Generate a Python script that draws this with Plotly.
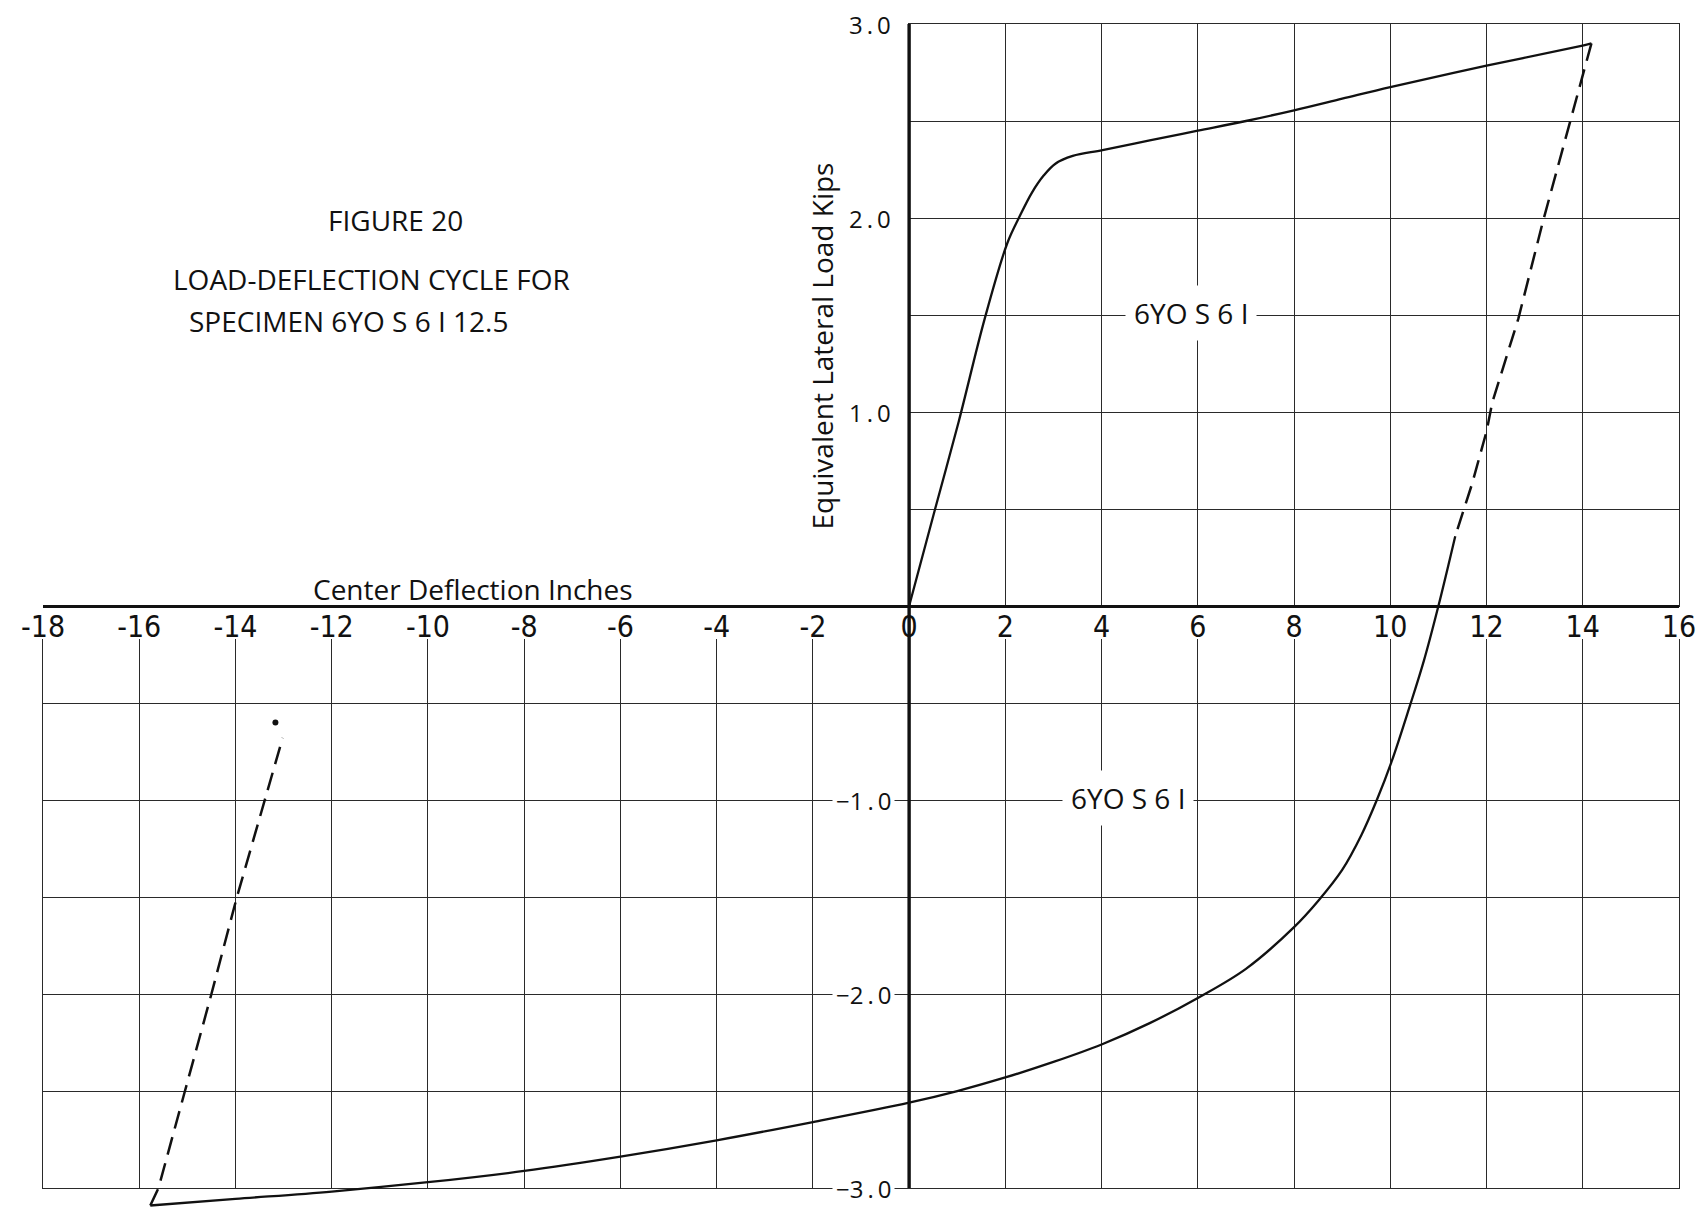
import plotly.graph_objects as go

# ---------------- data ----------------
load_x = [0.0, 0.54, 1.03, 1.57, 2.04, 2.3, 2.55, 2.8, 3.04, 3.4, 4.02, 5.0, 6.0, 7.0, 8.0, 9.0, 10.0, 12.0, 14.02, 14.18]
load_y = [0.0, 0.5, 0.95, 1.48, 1.87, 2.01, 2.13, 2.22, 2.28, 2.32, 2.35, 2.40, 2.45, 2.50, 2.555, 2.615, 2.675, 2.785, 2.89, 2.9]

unload_x = [14.18, 13.17, 12.66, 12.12, 12.0, 11.7, 11.35]
unload_y = [2.9, 1.98, 1.48, 1.05, 0.9, 0.63, 0.36]

reverse_x = [11.35, 11.0, 10.7, 10.4, 10.03, 9.72, 9.4, 9.0, 8.5, 8.0, 7.0, 6.0, 5.0, 4.0, 3.0, 2.0, 1.0, 0.0,
             -2.0, -4.0, -6.0, -8.0, -10.0, -12.0, -14.0, -15.77]
reverse_y = [0.36, 0.0, -0.28, -0.52, -0.80, -1.0, -1.18, -1.36, -1.52, -1.655, -1.87, -2.02, -2.15, -2.26, -2.35, -2.43,
             -2.50, -2.56, -2.66, -2.754, -2.838, -2.912, -2.97, -3.018, -3.056, -3.09]

reload_x = [-15.77, -15.6, -15.05, -14.5, -13.97, -13.5, -13.02]
reload_y = [-3.09, -3.0, -2.5, -2.0, -1.5, -1.1, -0.68]

end_dot_x = [-13.17]
end_dot_y = [-0.60]

x_ticks = list(range(-18, 17, 2))
x_ticktext = [str(v) if v >= 0 else "-" + str(-v) for v in x_ticks]
y_labels = [3.0, 2.0, 1.0, -1.0, -2.0, -3.0]

# ---------------- geometry ----------------
X_MIN, X_MAX = -18, 16
Y_MIN, Y_MAX = -3.108, 3.0
GRID_LOW_TOP = -0.17


def fx(v):
    return (v - X_MIN) / (X_MAX - X_MIN)


def fy(v):
    return (v - Y_MIN) / (Y_MAX - Y_MIN)


INK = "#111111"
GRID = "#2a2a2a"
FONT = "'Open Sans', Lato, sans-serif"
NARROW = "'Liberation Sans Narrow', 'DejaVu Sans Condensed', Lato, sans-serif"

fig = go.Figure()

# empty traces so the grid subplots exist
fig.add_trace(go.Scatter(x=[None], y=[None], xaxis="x", yaxis="y", showlegend=False, hoverinfo="skip"))
fig.add_trace(go.Scatter(x=[None], y=[None], xaxis="x2", yaxis="y2", showlegend=False, hoverinfo="skip"))

line_solid = dict(color=INK, width=2.3, shape="spline", smoothing=1.0)
line_dash = dict(color=INK, width=2.5, dash="18px,9px")

fig.add_trace(go.Scatter(x=load_x, y=load_y, mode="lines", line=line_solid,
                         xaxis="x3", yaxis="y3", showlegend=False))
fig.add_trace(go.Scatter(x=unload_x, y=unload_y, mode="lines", line=line_dash,
                         xaxis="x3", yaxis="y3", showlegend=False))
fig.add_trace(go.Scatter(x=reverse_x, y=reverse_y, mode="lines", line=line_solid,
                         xaxis="x3", yaxis="y3", showlegend=False))
fig.add_trace(go.Scatter(x=reload_x, y=reload_y, mode="lines", line=line_dash,
                         xaxis="x3", yaxis="y3", showlegend=False))
fig.add_trace(go.Scatter(x=end_dot_x, y=end_dot_y, mode="markers", marker=dict(color=INK, size=6),
                         xaxis="x3", yaxis="y3", showlegend=False))

grid_common = dict(showgrid=True, gridcolor=GRID, gridwidth=1.2, showline=True, linecolor=GRID, linewidth=1.2,
                   zeroline=False, showticklabels=False, ticks="", fixedrange=True)

fig.update_layout(
    width=1696, height=1209,
    margin=dict(l=43, r=17, t=24, b=0),
    paper_bgcolor="white", plot_bgcolor="rgba(0,0,0,0)",
    showlegend=False,
    # upper-right quadrant grid
    xaxis=dict(domain=[fx(0), 1], range=[0, 16], tick0=0, dtick=2, mirror=True, anchor="y", **grid_common),
    yaxis=dict(domain=[fy(0), 1], range=[0, 3], tick0=0, dtick=0.5, mirror=True, anchor="x", **grid_common),
    # lower half grid
    xaxis2=dict(domain=[0, 1], range=[-18, 16], tick0=0, dtick=2, mirror=False, anchor="y2", **grid_common),
    yaxis2=dict(domain=[fy(-3), fy(GRID_LOW_TOP)], range=[-3, GRID_LOW_TOP], tick0=0, dtick=0.5, mirror=True,
                anchor="x2", **grid_common),
    # data axes
    xaxis3=dict(domain=[0, 1], range=[X_MIN, X_MAX], showgrid=False, zeroline=False, showline=False,
                tickmode="array", tickvals=x_ticks, ticktext=x_ticktext, ticks="",
                tickfont=dict(family=NARROW, size=30, color=INK), ticklabeloverflow="allow",
                anchor="free", position=fy(0), fixedrange=True),
    yaxis3=dict(domain=[0, 1], range=[Y_MIN, Y_MAX], showgrid=False, showline=False, showticklabels=False,
                zeroline=True, zerolinecolor=INK, zerolinewidth=3.2, anchor="x3", fixedrange=True),
)

# thick vertical axis line at x = 0 spanning the grid height
fig.add_shape(type="line", xref="x3", yref="y3", x0=0, x1=0, y0=-3, y1=3, line=dict(color=INK, width=3.4))

# y value labels
for v in y_labels:
    txt = ("\u2212" if v < 0 else "") + f"{abs(v):.0f}\u2009.\u20090"
    fig.add_annotation(xref="x3", yref="y3", x=0, y=v, text=txt, showarrow=False, xanchor="right",
                       xshift=-14, font=dict(family=FONT, size=24, color=INK),
                       bgcolor="white" if v < 0 else None, borderpad=3)

# axis titles
fig.add_annotation(xref="x3", yref="y3", x=-9.06, y=0.09, text="Center Deflection Inches", showarrow=False,
                   font=dict(family=FONT, size=28, color=INK))
fig.add_annotation(xref="x3", yref="y3", x=-1.8, y=1.34, text="Equivalent Lateral Load Kips", showarrow=False,
                   textangle=-90, font=dict(family=FONT, size=28, color=INK))

# figure title
fig.add_annotation(xref="x3", yref="y3", x=-10.68, y=1.99, text="FIGURE 20", showarrow=False,
                   font=dict(family=FONT, size=28, color=INK))
fig.add_annotation(xref="x3", yref="y3", x=-15.34, y=1.686, text="LOAD-DEFLECTION CYCLE FOR", showarrow=False,
                   xanchor="left", font=dict(family=FONT, size=28, color=INK))
fig.add_annotation(xref="x3", yref="y3", x=-15.0, y=1.469, text="SPECIMEN 6YO S 6 I 12.5", showarrow=False,
                   xanchor="left", font=dict(family=FONT, size=28, color=INK))

# curve labels
fig.add_annotation(xref="x3", yref="y3", x=5.85, y=1.51, text="6YO S 6 I", showarrow=False,
                   font=dict(family=FONT, size=28, color=INK), bgcolor="white", borderpad=8)
fig.add_annotation(xref="x3", yref="y3", x=4.55, y=-0.99, text="6YO S 6 I", showarrow=False,
                   font=dict(family=FONT, size=28, color=INK), bgcolor="white", borderpad=8)

fig.write_html("out.html")
